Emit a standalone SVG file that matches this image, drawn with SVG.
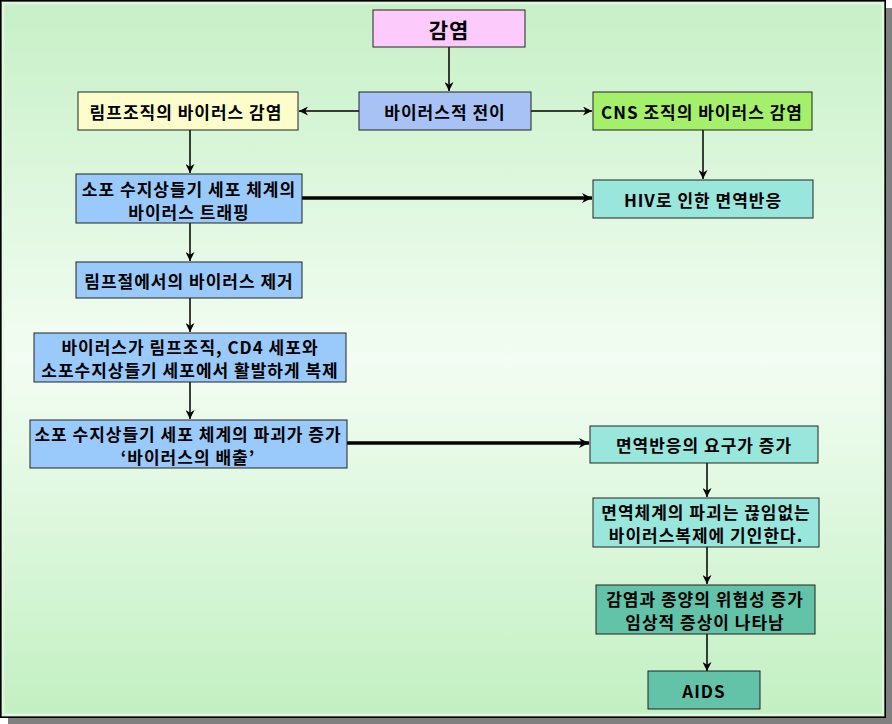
<svg xmlns="http://www.w3.org/2000/svg" width="892" height="724" viewBox="0 0 892 724">
<defs>
<linearGradient id="bg" x1="0" y1="0" x2="0" y2="1">
<stop offset="0" stop-color="#c6f0c6"/>
<stop offset="0.5" stop-color="#f3fdf3"/>
<stop offset="1" stop-color="#c2f0c2"/>
</linearGradient>
<marker id="ah" viewBox="0 0 10 10" refX="10" refY="5" markerWidth="9" markerHeight="9" markerUnits="userSpaceOnUse" orient="auto">
<path d="M0,0 L10,5 L0,10 L3,5 Z" fill="#000"/>
</marker>
<marker id="ahb" viewBox="0 0 10 10" refX="10" refY="5" markerWidth="16" markerHeight="10" markerUnits="userSpaceOnUse" orient="auto">
<path d="M0,0 L10,5 L0,10 L3,5 Z" fill="#000"/>
</marker>
</defs>
<style>
.box{stroke:#222;stroke-width:1}
.t{font-family:"Noto Sans CJK KR","Liberation Sans",sans-serif;font-size:17px;letter-spacing:1px;font-weight:bold;fill:#000;text-anchor:middle;dominant-baseline:central}
.ln{stroke:#000;stroke-width:1.5;fill:none;marker-end:url(#ah)}
.lnb{stroke:#000;stroke-width:3.5;fill:none;marker-end:url(#ahb)}
</style>
<rect x="0" y="0" width="892" height="724" fill="#fff"/>
<rect x="8" y="8" width="884" height="716" fill="#808080"/>
<rect x="1" y="1" width="884" height="716" fill="url(#bg)" stroke="#000" stroke-width="2"/>
<rect x="3" y="3" width="880" height="712" fill="none" stroke="#e6fbe6" stroke-width="3" opacity="0.7"/>

<g id="connectors">
<line class="ln" x1="449" y1="47" x2="449" y2="91"/>
<line class="ln" x1="359" y1="111" x2="299" y2="111"/>
<line class="ln" x1="531" y1="111" x2="592" y2="111"/>
<line class="ln" x1="190" y1="130" x2="190" y2="173"/>
<line class="ln" x1="703" y1="130" x2="703" y2="179"/>
<line class="lnb" x1="302" y1="198" x2="592" y2="198"/>
<line class="ln" x1="190" y1="223" x2="190" y2="261"/>
<line class="ln" x1="190" y1="298" x2="190" y2="332"/>
<line class="ln" x1="190" y1="382" x2="190" y2="419"/>
<line class="lnb" x1="347" y1="443" x2="589" y2="443"/>
<line class="ln" x1="707" y1="463" x2="707" y2="497"/>
<line class="ln" x1="707" y1="547" x2="707" y2="584"/>
<line class="ln" x1="707" y1="634" x2="707" y2="671"/>
</g>

<g id="n1"><rect class="box" x="373" y="10" width="152" height="37" fill="#fccbfc"/><text class="t" x="449" y="29" style="font-size:21px">감염</text></g>
<g id="n2"><rect class="box" x="359" y="92" width="172" height="38" fill="#a9c2f6"/><text class="t" x="445" y="111">바이러스적 전이</text></g>
<g id="n3"><rect class="box" x="78" y="92" width="220" height="38" fill="#fdfdcb"/><text class="t" x="186" y="111">림프조직의 바이러스 감염</text></g>
<g id="n4"><rect class="box" x="593" y="92" width="219" height="38" fill="#a4f06a"/><text class="t" x="702" y="111">CNS 조직의 바이러스 감염</text></g>
<g id="n5"><rect class="box" x="76" y="174" width="226" height="49" fill="#9acafb"/><text class="t" x="189" y="188">소포 수지상들기 세포 체계의</text><text class="t" x="189" y="211">바이러스 트래핑</text></g>
<g id="n6"><rect class="box" x="593" y="180" width="220" height="38" fill="#98e6dc"/><text class="t" x="703" y="199">HIV로 인한 면역반응</text></g>
<g id="n7"><rect class="box" x="76" y="262" width="226" height="36" fill="#9acafb"/><text class="t" x="189" y="280">림프절에서의 바이러스 제거</text></g>
<g id="n8"><rect class="box" x="34" y="333" width="312" height="49" fill="#9acafb"/><text class="t" x="190" y="346">바이러스가 림프조직, CD4 세포와</text><text class="t" x="190" y="369">소포수지상들기 세포에서 활발하게 복제</text></g>
<g id="n9"><rect class="box" x="30" y="420" width="317" height="48" fill="#9acafb"/><text class="t" x="188" y="433">소포 수지상들기 세포 체계의 파괴가 증가</text><text class="t" x="188" y="456">‘바이러스의 배출’</text></g>
<g id="n10"><rect class="box" x="590" y="426" width="228" height="37" fill="#98e6dc"/><text class="t" x="704" y="444">면역반응의 요구가 증가</text></g>
<g id="n11"><rect class="box" x="593" y="498" width="226" height="49" fill="#98e6dc"/><text class="t" x="706" y="511">면역체계의 파괴는 끊임없는</text><text class="t" x="706" y="534">바이러스복제에 기인한다.</text></g>
<g id="n12"><rect class="box" x="596" y="585" width="219" height="49" fill="#62c3a9"/><text class="t" x="705" y="598">감염과 종양의 위험성 증가</text><text class="t" x="705" y="621">임상적 증상이 나타남</text></g>
<g id="n13"><rect class="box" x="648" y="671" width="112" height="38" fill="#62c3a9"/><text class="t" x="704" y="690">AIDS</text></g>
</svg>
